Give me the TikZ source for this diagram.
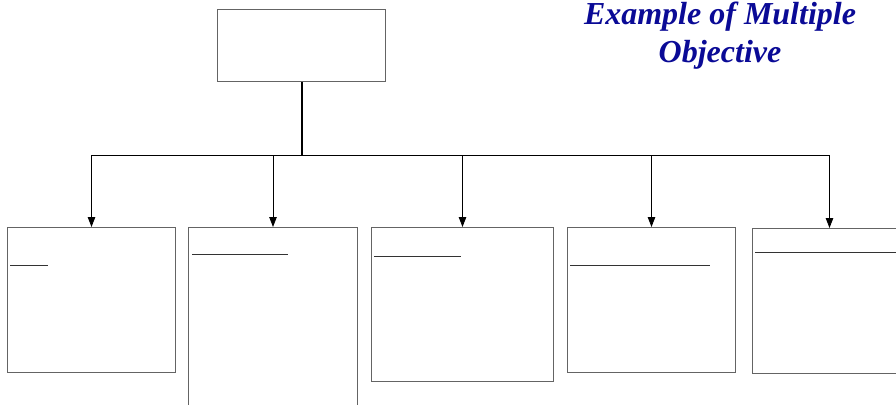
\documentclass[tikz,border=0pt]{standalone}
\usepackage{fontspec}
\newfontfamily\titlefont{Liberation Serif}
\usetikzlibrary{arrows.meta,calc}
\definecolor{titleblue}{RGB}{10,10,150}
\definecolor{boxgray}{RGB}{100,100,100}
\begin{document}
\begin{tikzpicture}[x=1pt,y=-1pt,
  box/.style={draw=boxgray,line width=1pt,anchor=north west,inner sep=0pt,minimum height=#1},
  rule/.style={draw=black!80,line width=0.8pt},
  link/.style={draw=black,line width=0.9pt},
  drop/.style={link,-{Triangle[length=10pt,width=7.5pt]}}]
  \useasboundingbox (0,0) rectangle (896,404);
  \clip (0,0) rectangle (896,404);

  % top-level box
  \node[box=72pt,minimum width=168pt] (top) at (217,9) {};

  % second-level boxes
  \node[box=145pt,minimum width=168pt] (b1) at (7,227) {};
  \node[box=200pt,minimum width=169pt] (b2) at (188,227) {};
  \node[box=154pt,minimum width=182pt] (b3) at (371,227) {};
  \node[box=145pt,minimum width=168pt] (b4) at (567,227) {};
  \node[box=145pt,minimum width=154pt] (b5) at (752,228) {};

  % bus and connectors
  \coordinate (bus) at (301,155);
  \draw[link,line width=2pt] (top.south) -- (top.south |- bus);
  \draw[link] (b1.north |- bus) -- (b5.north |- bus);
  \foreach \b in {b1,b2,b3,b4,b5}
    \draw[drop] (\b.north |- bus) -- (\b.north);

  % heading rules inside the boxes
  \draw[rule] ($(b1.north west)+(3,38)$) -- ++(38,0);
  \draw[rule] ($(b2.north west)+(4,27)$) -- ++(96,0);
  \draw[rule] ($(b3.north west)+(3,29)$) -- ++(87,0);
  \draw[rule] ($(b4.north west)+(3,38)$) -- ++(140,0);
  \draw[rule] ($(b5.north west)+(3,24)$) -- ++(150,0);

  % title (base anchor sits on the last line)
  \node[text=titleblue,font=\titlefont\bfseries\itshape\fontsize{32}{38}\selectfont,
        align=center,anchor=base,inner sep=0pt] (title) at (720,63) {Example of Multiple\\Objective};
\end{tikzpicture}
\end{document}
